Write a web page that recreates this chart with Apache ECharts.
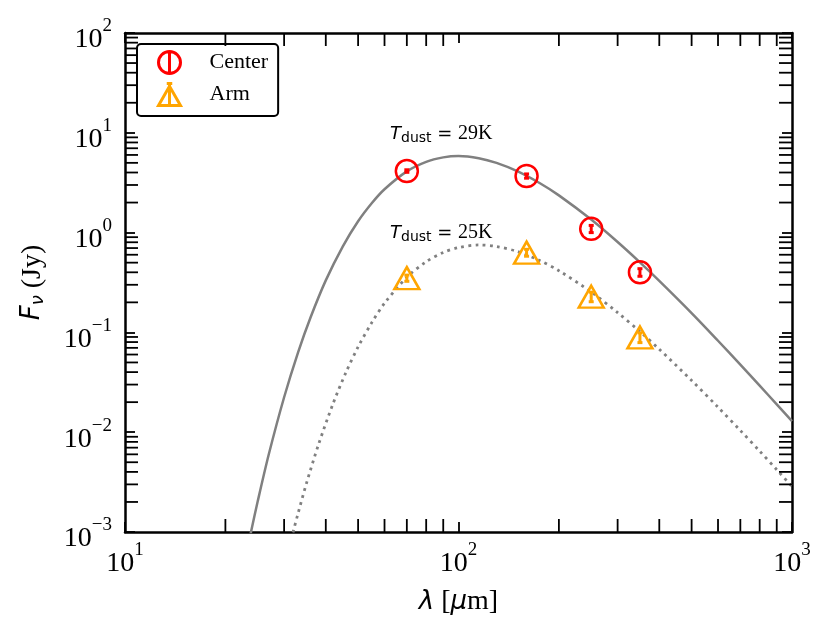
<!DOCTYPE html>
<html>
<head>
<meta charset="utf-8">
<title>SED</title>
<script src="https://cdn.jsdelivr.net/npm/echarts@6/dist/echarts.min.js"></script>
<style>html,body{margin:0;padding:0;background:#fff}</style>
</head>
<body>
<div id="main" style="width:830px;height:640px"></div>
<script>
// photometry (wavelength in micron, flux in Jy)
var bandWave = [70, 160, 250, 350];
var centerFlux = [4.14, 3.69, 1.09, 0.40];
var centerErr = [0.12, 0.18, 0.09, 0.035];
var armFlux = [0.35, 0.63, 0.228, 0.089];
var armErr = [0.025, 0.05, 0.025, 0.01];

// fitted greybody curves
var warmWave = [23.5, 24, 25, 27, 30, 33, 36, 40, 45, 50, 55, 60, 70, 80, 90, 100, 115, 130, 150, 175, 200, 250, 300, 350, 400, 500, 600, 700, 800, 900, 1000];
var warmFlux = [7.8e-4, 1.09e-3, 2.03e-3, 6.04e-3, 0.0224, 0.0625, 0.141, 0.332, 0.729, 1.30, 1.98, 2.72, 4.11, 5.12, 5.67, 5.85, 5.57, 5.00, 4.13, 3.14, 2.36, 1.35, 0.804, 0.503, 0.328, 0.156, 0.0825, 0.0476, 0.0293, 0.0190, 0.0129];
var coldWave = [31.5, 32, 33, 35, 38, 42, 46, 50, 55, 60, 70, 80, 90, 100, 115, 130, 150, 175, 200, 250, 300, 350, 400, 500, 600, 700, 800, 900, 1000];
var coldFlux = [8.4e-4, 1.03e-3, 1.52e-3, 3.07e-3, 7.44e-3, 0.0191, 0.0399, 0.0715, 0.126, 0.196, 0.357, 0.511, 0.632, 0.708, 0.752, 0.726, 0.647, 0.526, 0.415, 0.254, 0.158, 0.102, 0.0677, 0.0330, 0.0178, 0.0104, 0.00646, 0.00421, 0.00286];

var xMin = 10, xMax = 1000, yMin = 1e-3, yMax = 1e2;
var xMinorTicks = [20, 30, 40, 50, 60, 70, 80, 90, 200, 300, 400, 500, 600, 700, 800, 900];
var yMinorTicks = [0.002, 0.003, 0.004, 0.005, 0.006, 0.007, 0.008, 0.009,
    0.02, 0.03, 0.04, 0.05, 0.06, 0.07, 0.08, 0.09,
    0.2, 0.3, 0.4, 0.5, 0.6, 0.7, 0.8, 0.9,
    2, 3, 4, 5, 6, 7, 8, 9,
    20, 30, 40, 50, 60, 70, 80, 90];

var serif = 'Liberation Serif, DejaVu Serif, serif';
var sans = 'DejaVu Sans, sans-serif';

function pair(xs, ys) {
    return xs.map(function (x, i) { return [x, ys[i]]; });
}
function errData(vals, errs) {
    return bandWave.map(function (w, i) { return [w, vals[i] - errs[i], vals[i] + errs[i]]; });
}

function powLabel(v) {
    var e = Math.round(Math.log10(v));
    return '{b|10}{s|' + (e < 0 ? '\u2212' + (-e) : e) + '}';
}
var powRich = {
    b: {fontFamily: serif, fontSize: 28, color: '#000'},
    s: {fontFamily: serif, fontSize: 19, color: '#000', padding: [0, 0, 27, 0]}
};

function errRender(params, api) {
    var x = api.value(0);
    var lo = api.coord([x, api.value(1)]);
    var hi = api.coord([x, api.value(2)]);
    var c = api.visual('color');
    var st = {stroke: c, lineWidth: 3};
    return {
        type: 'group',
        children: [
            {type: 'line', shape: {x1: lo[0], y1: lo[1], x2: hi[0], y2: hi[1]}, style: st},
            {type: 'line', shape: {x1: lo[0] - 2.5, y1: lo[1], x2: lo[0] + 2.5, y2: lo[1]}, style: st},
            {type: 'line', shape: {x1: hi[0] - 2.5, y1: hi[1], x2: hi[0] + 2.5, y2: hi[1]}, style: st}
        ]
    };
}

// minor ticks on both sides of the frame
function xMinorRender(params, api) {
    var cs = params.coordSys;
    var px = api.coord([api.value(0), yMin])[0];
    var b = cs.y + cs.height, t = cs.y;
    var st = {stroke: '#000', lineWidth: 1.8};
    return {type: 'group', children: [
        {type: 'line', shape: {x1: px, y1: b, x2: px, y2: b - 13}, style: st},
        {type: 'line', shape: {x1: px, y1: t, x2: px, y2: t + 13}, style: st}
    ]};
}
function yMinorRender(params, api) {
    var cs = params.coordSys;
    var py = api.coord([xMin, api.value(1)])[1];
    var l = cs.x, r = cs.x + cs.width;
    var st = {stroke: '#000', lineWidth: 1.8};
    return {type: 'group', children: [
        {type: 'line', shape: {x1: l, y1: py, x2: l + 13, y2: py}, style: st},
        {type: 'line', shape: {x1: r, y1: py, x2: r - 13, y2: py}, style: st}
    ]};
}

var circleIcon = 'path://M1,12 A11,11 0 1,1 23,12 A11,11 0 1,1 1,12 Z M12,1 L12,23';
var triIcon = 'path://M0,24 L12,3 L24,24 Z M12,24 L12,0 M9,0 L15,0';

var axisCommon = {
    type: 'log', logBase: 10,
    axisLine: {show: true, lineStyle: {color: '#000', width: 2.5}},
    axisTick: {show: true, inside: true, length: 10, lineStyle: {color: '#000', width: 1.8}},
    splitLine: {show: false},
    minorTick: {show: false}
};

var chart = echarts.init(document.getElementById('main'));
chart.setOption({
    animation: false,
    backgroundColor: '#fff',
    grid: {left: 125, right: 38, top: 33, bottom: 108, outerBoundsMode: 'none'},
    xAxis: [
        echarts.util.merge({
            min: xMin, max: xMax, position: 'bottom',
            axisLabel: {margin: 9, formatter: powLabel, rich: powRich},
            name: '{l|\u03bb}{r| [}{l|\u03bc}{r|m]}',
            nameLocation: 'middle', nameGap: 56,
            nameTextStyle: {rich: {
                l: {fontFamily: sans, fontStyle: 'italic', fontSize: 26, color: '#000'},
                r: {fontFamily: serif, fontSize: 28, color: '#000'}
            }}
        }, axisCommon, false),
        echarts.util.merge({
            min: xMin, max: xMax, position: 'top',
            axisLabel: {show: false}
        }, axisCommon, false)
    ],
    yAxis: [
        echarts.util.merge({
            min: yMin, max: yMax, position: 'left',
            axisLabel: {margin: 13, formatter: powLabel, rich: powRich, padding: [14, 0, 0, 0]},
            name: '{l|F}{sub|\u03bd}{r| (Jy)}',
            nameLocation: 'middle', nameGap: 78,
            nameTextStyle: {rich: {
                l: {fontFamily: sans, fontStyle: 'italic', fontSize: 26, color: '#000'},
                sub: {fontFamily: sans, fontStyle: 'italic', fontSize: 18, color: '#000', padding: [11, 0, 0, 0]},
                r: {fontFamily: serif, fontSize: 28, color: '#000'}
            }}
        }, axisCommon, false),
        echarts.util.merge({
            min: yMin, max: yMax, position: 'right',
            axisLabel: {show: false}
        }, axisCommon, false)
    ],
    legend: {
        left: 137, top: 44,
        orient: 'vertical',
        padding: [6, 10, 9, 20],
        itemWidth: 22, itemHeight: 24, itemGap: 7,
        borderColor: '#000', borderWidth: 2, borderRadius: 4,
        backgroundColor: '#fff',
        textStyle: {fontFamily: serif, fontSize: 22, color: '#000', padding: [0, 0, 0, 24]},
        data: [
            {name: 'Center', icon: circleIcon, itemStyle: {color: 'transparent', borderColor: '#ff0000', borderWidth: 3, opacity: 1}},
            {name: 'Arm', icon: triIcon, itemStyle: {color: 'transparent', borderColor: '#ffa500', borderWidth: 3, opacity: 1}}
        ]
    },
    graphic: [
        {type: 'text', x: 390, y: 134, z: 100, style: {
            text: '{t|T}{d|dust}{e| = }{n|29K}', verticalAlign: 'middle',
            rich: {
                t: {fontFamily: sans, fontStyle: 'italic', fontSize: 18, fill: '#000'},
                d: {fontFamily: sans, fontSize: 14, fill: '#000', padding: [9, 0, 0, 0]},
                e: {fontFamily: sans, fontSize: 18, fill: '#000'},
                n: {fontFamily: serif, fontSize: 20, fill: '#000'}
            }
        }},
        {type: 'text', x: 390, y: 233, z: 100, style: {
            text: '{t|T}{d|dust}{e| = }{n|25K}', verticalAlign: 'middle',
            rich: {
                t: {fontFamily: sans, fontStyle: 'italic', fontSize: 18, fill: '#000'},
                d: {fontFamily: sans, fontSize: 14, fill: '#000', padding: [9, 0, 0, 0]},
                e: {fontFamily: sans, fontSize: 18, fill: '#000'},
                n: {fontFamily: serif, fontSize: 20, fill: '#000'}
            }
        }}
    ],
    series: [
        {
            name: 'T29', type: 'line', data: pair(warmWave, warmFlux),
            showSymbol: false, smooth: 0.3, z: 2,
            lineStyle: {color: '#808080', width: 2.5}
        },
        {
            name: 'T25', type: 'line', data: pair(coldWave, coldFlux),
            showSymbol: false, smooth: 0.3, z: 2,
            lineStyle: {color: '#808080', width: 2.8, type: [2.8, 4.4]}
        },
        {
            name: 'Center', type: 'scatter', data: pair(bandWave, centerFlux),
            symbol: 'circle', symbolSize: 22, z: 3,
            itemStyle: {color: 'transparent', borderColor: '#ff0000', borderWidth: 2.5, opacity: 1}
        },
        {
            name: 'Arm', type: 'scatter', data: pair(bandWave, armFlux),
            symbol: 'triangle', symbolSize: [25, 22], z: 3,
            itemStyle: {color: 'transparent', borderColor: '#ffa500', borderWidth: 2.5, opacity: 1}
        },
        {
            name: 'CenterErr', type: 'custom', data: errData(centerFlux, centerErr),
            encode: {x: 0, y: [1, 2]}, renderItem: errRender, z: 4,
            itemStyle: {color: '#ff0000'}
        },
        {
            name: 'ArmErr', type: 'custom', data: errData(armFlux, armErr),
            encode: {x: 0, y: [1, 2]}, renderItem: errRender, z: 4,
            itemStyle: {color: '#ffa500'}
        },
        {
            name: 'xMinor', type: 'custom', clip: false, silent: true,
            data: xMinorTicks.map(function (v) { return [v, yMin]; }),
            encode: {x: 0, y: 1}, renderItem: xMinorRender, z: 5
        },
        {
            name: 'yMinor', type: 'custom', clip: false, silent: true,
            data: yMinorTicks.map(function (v) { return [xMin, v]; }),
            encode: {x: 0, y: 1}, renderItem: yMinorRender, z: 5
        }
    ]
});
</script>
</body>
</html>
